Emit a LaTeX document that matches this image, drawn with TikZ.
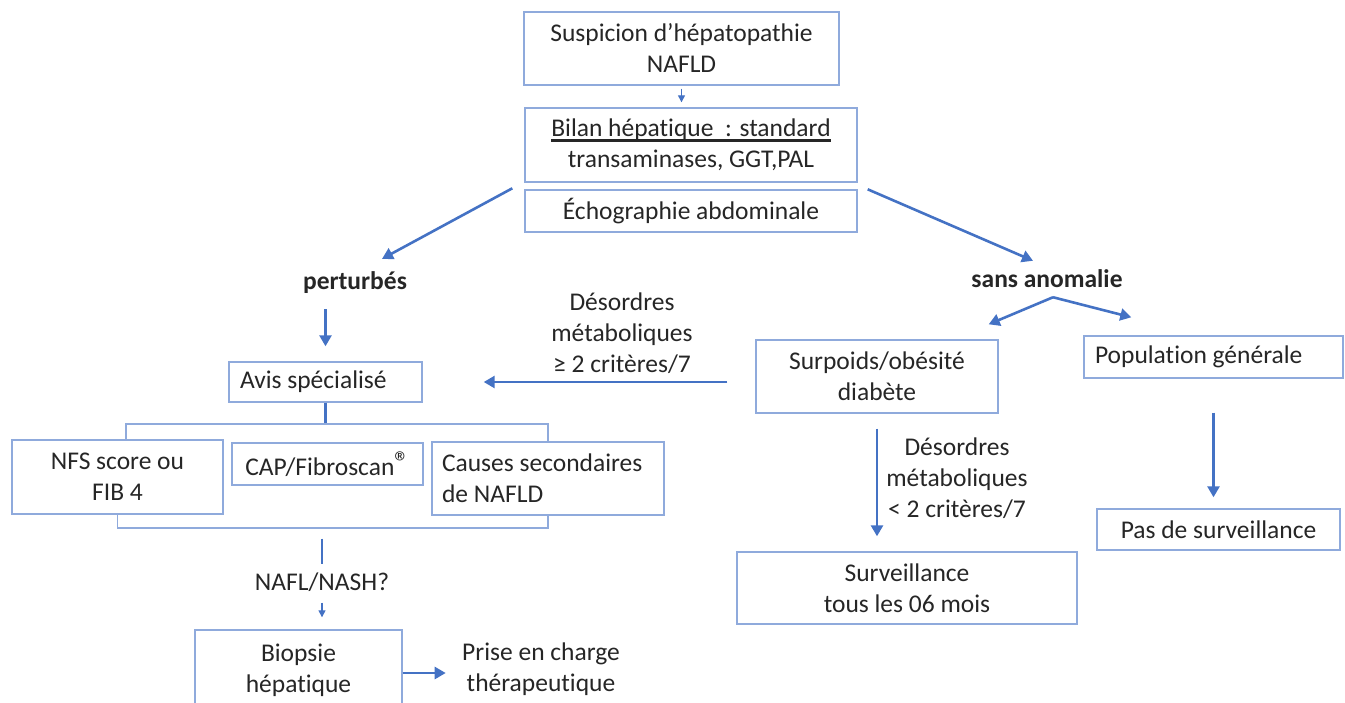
\documentclass[tikz,border=0pt]{standalone}
\usepackage{fontspec}
\setmainfont{Carlito}[Ligatures=CommonOff]
\usepackage{tikz}
\usetikzlibrary{arrows.meta,calc}
\usepackage{xcolor}

\definecolor{boxline}{HTML}{8FAADC}
\definecolor{arrblue}{HTML}{4472C4}
\newcommand{\fs}{\fontsize{25.5}{31}\selectfont}
\newcommand{\bilanul}[1]{{\setbox0\hbox{#1}\rlap{\rule[-5pt]{\wd0}{2.5pt}}\box0}}
\newcommand{\regmark}{\raisebox{3pt}{\fontsize{30}{30}\selectfont ®}}

\begin{document}
\begin{tikzpicture}[x=1pt, y=-1pt, >={Triangle[length=11pt,width=12pt]},
    box/.style={draw=boxline, line width=1.4pt, align=center, inner sep=0pt, font=\fs, text=black!85},
    lbl/.style={align=center, inner sep=0pt, font=\fs, text=black!85},
    arr/.style={draw=arrblue, line width=2.6pt, ->},
    tiny/.style={draw=arrblue, line width=1.3pt, -{Triangle[length=7pt,width=7pt]}},
    link/.style={draw=arrblue, line width=2.4pt},
    brk/.style={draw=boxline, line width=1.6pt}]
    \useasboundingbox (0,0) rectangle (1345,702);

    % top of the chart
    \node[box, minimum width=315, minimum height=73] (susp) at (681.5,48.5) {Suspicion d’hépatopathie\\NAFLD};
    \node[box, minimum width=332, minimum height=74] (bilan) at (691,145) {\bilanul{Bilan hépatique\ \ : standard}\\transaminases, GGT,PAL};
    \node[box, minimum width=332, minimum height=42] (echo) at (691,211) {Échographie abdominale};

    \node[lbl, font={\fs\bfseries}] (pert) at (355,283) {perturbés};
    \node[lbl, font={\fs\bfseries}] (sans) at (1047,279) {sans anomalie};

    % left branch
    \node[box, minimum width=193, minimum height=40, text width=171, align=flush left, inner xsep=11pt] (avis) at (325.5,382) {Avis spécialisé};
    \node[lbl] (crit) at (622,333) {Désordres\\métaboliques\\≥ 2 critères/7};
    \node[box, minimum width=211, minimum height=74] (nfs) at (117.5,477) {NFS score ou\\FIB 4};
    \node[box, minimum width=191, minimum height=42] (cap) at (327.5,464) {CAP/Fibroscan\regmark};
    \node[box, minimum width=232, minimum height=73, text width=212, align=flush left, inner xsep=10pt] (causes) at (548,478.5) {Causes secondaires\\de NAFLD};
    \node[lbl] (nafl) at (322,582) {NAFL/NASH?};
    \node[box, minimum width=207, minimum height=80] (biop) at (298.5,670) {Biopsie\\hépatique};
    \node[lbl] (prise) at (541,669) {Prise en charge\\thérapeutique};

    % right branch
    \node[box, minimum width=242, minimum height=73] (surp) at (877,376.5) {Surpoids/obésité\\diabète};
    \node[box, minimum width=259, minimum height=42, text width=237, align=flush left, inner xsep=11pt] (popu) at (1213.5,357) {Population générale};
    \node[lbl] (crit2) at (957,478) {Désordres\\métaboliques\\< 2 critères/7};
    \node[box, minimum width=340, minimum height=72] (surv) at (907,588) {Surveillance\\tous les 06 mois};
    \node[box, minimum width=243, minimum height=41] (pas) at (1218.5,529.5) {Pas de surveillance};

    % connectors
    \draw[tiny, shorten <=3, shorten >=5] (susp.south) -- (susp.south |- bilan.north);
    \draw[arr] ([shift={(-12,-1)}]echo.north west) -- ([shift={(27,-13)}]pert.north);
    \draw[arr] ([shift={(10,0)}]echo.north east) -- ([shift={(-14,-9)}]sans.north);
    \draw[arr, shorten <=15, shorten >=15] (pert.south -| avis.north) -- (avis.north);
    \draw[arr, shorten <=28, shorten >=61] (surp.west |- avis.east) -- (avis.east);

    \draw[link] (avis.south) -- ++(0,21) coordinate (hub);
    \draw[brk] ([xshift=8.5pt]nfs.north) |- (hub) -| (causes.north);
    \draw[brk] (nfs.south) |- ([yshift=-12pt]causes.south) -- (causes.south);
    \draw[link, shorten <=23, shorten >=8] (nafl.north |- causes.south) -- (nafl.north);
    \draw[tiny, shorten <=11, shorten >=12] (nafl.south) -- (nafl.south |- biop.north);
    \draw[arr] (biop.east |- 0,673) -- ++(43,0);

    \coordinate (split) at ([shift={(6,9)}]sans.south);
    \draw[arr] (split) -- ([shift={(-10,-15)}]surp.north east);
    \draw[arr] (split) -- ([shift={(48,-18)}]popu.north west);
    \draw[arr, shorten <=15, shorten >=15] (surp.south) -- (surp.south |- surv.north);
    \draw[arr, shorten <=34, shorten >=11] (popu.south) -- (popu.south |- pas.north);
\end{tikzpicture}
\end{document}
